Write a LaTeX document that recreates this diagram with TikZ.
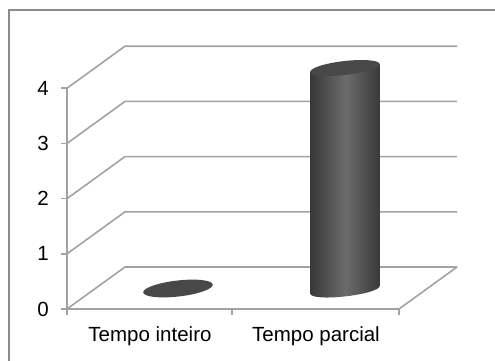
\documentclass[tikz,border=0pt]{standalone}
\usepackage{fontspec}
\setmainfont{Liberation Sans}
\definecolor{gridgray}{RGB}{162,162,162}
\definecolor{framegray}{RGB}{140,140,140}
\definecolor{cyldark}{RGB}{56,56,56}
\definecolor{cyllight}{RGB}{108,108,108}
\definecolor{capgray}{RGB}{72,72,72}
\begin{document}
\begin{tikzpicture}[x = 1pt, y = -1pt,
  grid/.style = {gridgray, line width = 1.6pt},
  lbl/.style = {font = \fontsize{20.5}{24}\selectfont, inner sep = 0pt}]
\useasboundingbox (0,0) rectangle (495,360);
\draw[framegray, line width = 1.6pt] (9,362) -- (9,10) -- (497,10);
% walls, ticks and values
\foreach \k in {0,...,4}{
  \pgfmathsetmacro{\yy}{309-55.2*\k}
  \draw[grid] (67,\yy) -- (125,\yy-42) -- (457,\yy-42);
  \draw[grid] (61,\yy) -- (67,\yy);
  \node[lbl, anchor = east] (val\k) at (49,\yy) {\k};
}
\draw[grid] (67,88.2) -- (67,315);
\draw[grid] (67,309) -- (399,309) -- (457,267);
\draw[grid] (232,309) -- (232,315);
\draw[grid] (399,309) -- (399,315);
% Tempo inteiro
\fill[capgray, rotate around = {6.5:(178,288.5)}] (178,288.5) ellipse (35pt and 8pt);
% Tempo parcial
\shade[left color = cyldark, right color = cyldark, middle color = cyllight]
  (310.2,72) -- (310.2,293.5) .. controls (311.2,302.6) and (380.8,294.6) .. (379.8,285.5) -- (379.8,64) -- cycle;
\fill[capgray, rotate around = {6.5:(345,68)}] (345,68) ellipse (35pt and 7pt);
\node[lbl, anchor = base] (inteiro) at (150,341) {Tempo inteiro};
\node[lbl, anchor = base] (parcial) at (316,341) {Tempo parcial};
\end{tikzpicture}
\end{document}
